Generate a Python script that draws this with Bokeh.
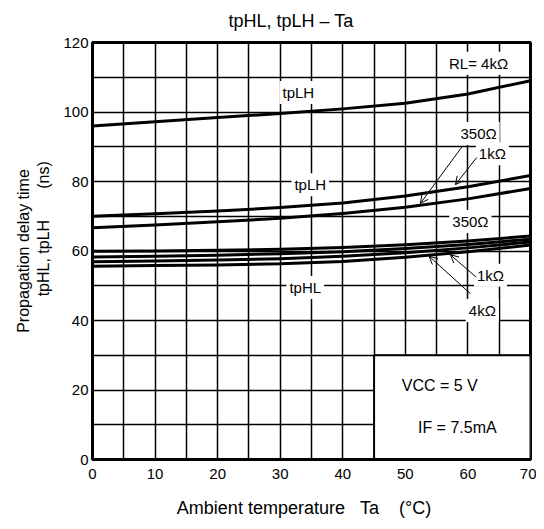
from bokeh.plotting import figure
from bokeh.models import Range1d, SingleIntervalTicker, Label, Arrow, OpenHead, FixedTicker
from bokeh.embed import file_html
from bokeh.resources import INLINE

FONT = "Liberation Sans"
NB = "\u00a0"

# temperature (°C)
ta = [0, 10, 20, 30, 40, 50, 60, 70]
# tpLH curves (ns)
tplh_4k = [96.0, 97.2, 98.4, 99.6, 100.9, 102.5, 105.2, 109.0]
tplh_1k = [70.0, 70.7, 71.5, 72.5, 73.8, 75.8, 78.5, 81.7]
tplh_350 = [66.7, 67.5, 68.4, 69.4, 70.8, 72.6, 75.0, 78.0]
# tpHL curves (ns)
tphl_a = [59.9, 60.0, 60.2, 60.5, 61.0, 61.8, 62.9, 64.3]
tphl_b = [58.3, 58.5, 58.8, 59.2, 59.8, 60.7, 61.9, 63.4]
tphl_c = [56.9, 57.1, 57.4, 57.8, 58.5, 59.5, 60.9, 62.6]
tphl_d = [55.6, 55.8, 56.0, 56.3, 57.0, 58.2, 59.8, 61.7]

x_ticks = [0, 10, 20, 30, 40, 50, 60, 70]
y_ticks = [0, 20, 40, 60, 80, 100, 120]

# annotation texts and anchor positions (data units)
label_texts = ["RL= 4kΩ", "tpLH", "350Ω", "1kΩ", "tpLH", "350Ω", "1kΩ", "4kΩ", "tpHL"]
label_x = [61.7, 32.9, 61.7, 63.9, 34.8, 60.4, 63.6, 62.3, 34.0]
label_y = [114.0, 105.6, 93.8, 88.0, 79.1, 68.5, 53.0, 42.9, 49.5]

# arrows: start -> end
arrow_x0 = [59.1, 61.4, 61.3, 60.4]
arrow_y0 = [90.1, 86.9, 52.5, 47.7]
arrow_x1 = [52.4, 58.0, 57.2, 53.8]
arrow_y1 = [73.7, 79.1, 58.9, 58.5]

# condition box
box = dict(left=45, right=70, bottom=0, top=30)

p = figure(frame_width=438, frame_height=417,
           min_border_left=92, min_border_right=6,
           min_border_top=42, min_border_bottom=62,
           x_range=Range1d(0, 70), y_range=Range1d(0, 120),
           output_backend="svg", toolbar_location=None,
           title="tpHL, tpLH – Ta")

p.title.align = "left"
p.title.offset = 136
p.title.text_font = FONT
p.title.text_font_size = "18px"
p.title.text_font_style = "normal"
p.title.text_color = "black"
p.title.vertical_align = "top"
p.title.standoff = 20

p.background_fill_color = "white"
p.border_fill_color = "white"
p.outline_line_color = "black"
p.outline_line_width = 3

p.xgrid.ticker = SingleIntervalTicker(interval=5)
p.ygrid.ticker = SingleIntervalTicker(interval=10)
for g in (p.xgrid, p.ygrid):
    g.grid_line_color = "black"
    g.grid_line_width = 1.5
    g.grid_line_alpha = 1.0

for ax in (p.xaxis, p.yaxis):
    ax.axis_line_color = "black"
    ax.axis_line_width = 3
    ax.major_tick_in = 0
    ax.major_tick_out = 0
    ax.minor_tick_in = 0
    ax.minor_tick_out = 0
    ax.major_label_text_font = FONT
    ax.major_label_text_font_size = "15px"
    ax.major_label_text_color = "black"
    ax.axis_label_text_font = FONT
    ax.axis_label_text_font_style = "normal"
    ax.axis_label_text_color = "black"

p.xaxis.axis_label_text_font_size = "18px"
p.yaxis.axis_label_text_font_size = "16px"
p.xaxis.ticker = FixedTicker(ticks=x_ticks)
p.yaxis.ticker = FixedTicker(ticks=y_ticks)
p.xaxis.major_label_standoff = 9
p.yaxis.major_label_standoff = 4
p.xaxis.axis_label = "Ambient temperature" + NB * 3 + "Ta" + NB * 4 + "(°C)" + NB * 3
p.xaxis.axis_label_standoff = 16
p.yaxis.axis_label = ("Propagation delay time\n" + NB * 10 + "tpHL, tpLH" + NB * 7 + "(ns)")
p.yaxis.axis_label_standoff = 8

p.quad(left=box["left"], right=box["right"], bottom=box["bottom"], top=box["top"],
       fill_color="white", line_color="black", line_width=2)

for ys in (tplh_4k, tplh_1k, tplh_350, tphl_a, tphl_b, tphl_c, tphl_d):
    p.line(ta, ys, line_color="black", line_width=3, line_join="round")

for t, x, y in zip(label_texts, label_x, label_y):
    p.add_layout(Label(x=x, y=y, text=t, text_font=FONT, text_font_size="15px",
                       text_color="black", text_align="center", text_baseline="middle",
                       background_fill_color="white", padding=3))

p.add_layout(Label(x=55.5, y=21.3, text="VCC = 5 V", text_font=FONT, text_font_size="16px",
                   text_color="black", text_align="center", text_baseline="middle"))
p.add_layout(Label(x=58.3, y=9.2, text="IF = 7.5mA", text_font=FONT, text_font_size="16px",
                   text_color="black", text_align="center", text_baseline="middle"))

for x0, y0, x1, y1 in zip(arrow_x0, arrow_y0, arrow_x1, arrow_y1):
    p.add_layout(Arrow(x_start=x0, y_start=y0, x_end=x1, y_end=y1,
                       line_color="black", line_width=1,
                       end=OpenHead(size=8, line_color="black", line_width=1)))

open("out.html", "w").write(file_html(p, INLINE))
